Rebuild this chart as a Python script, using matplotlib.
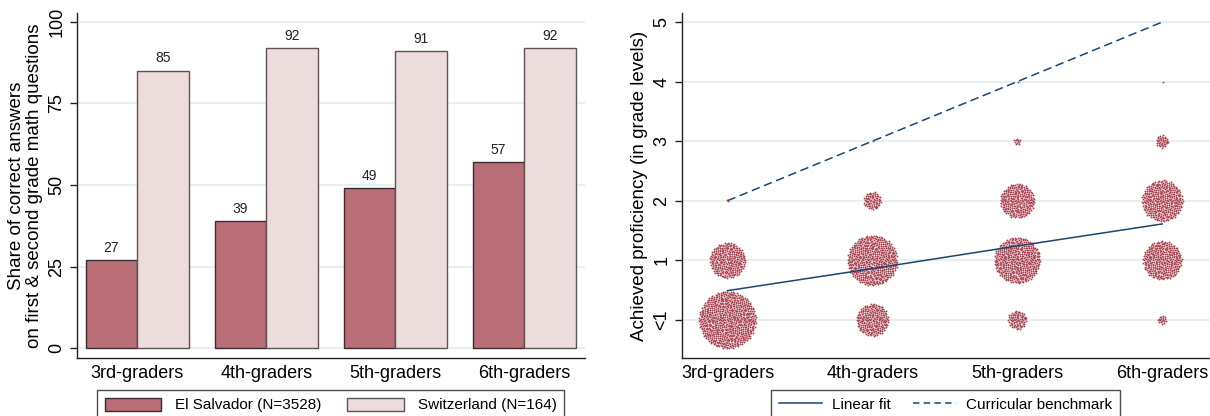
"""
two panel figure: share of correct answers by grade (bars) and achieved
proficiency of El Salvador pupils by grade (point clouds + fit lines).
"""
import numpy as np
import matplotlib
matplotlib.use("Agg")
import matplotlib.pyplot as plt
from matplotlib.patches import Patch
from matplotlib.lines import Line2D

plt.rcParams['font.family'] = ['Liberation Sans', 'DejaVu Sans']

# categories on both panels
grades = ["3rd-graders", "4th-graders", "5th-graders", "6th-graders"]

# left panel: share of correct answers (%)
el_salvador = [27, 39, 49, 57]
switzerland = [85, 92, 91, 92]
country_labels = ["El Salvador (N=3528)", "Switzerland (N=164)"]

# right panel: number of pupils per proficiency level, one list per grade
# levels: <1, 1, 2, 3, 4
prof_levels = [0, 1, 2, 3, 4]
prof_ticklabels = ["<1", "1", "2", "3", "4", "5"]
counts_g3 = [741, 290, 2, 0, 0]
counts_g4 = [237, 571, 70, 1, 0]
counts_g5 = [79, 479, 268, 11, 1]
counts_g6 = [18, 344, 380, 37, 1]
linear_fit = [0.49, 0.86, 1.24, 1.61]
benchmark = [2, 3, 4, 5]

MAROON = "#b96d76"
PINK = "#ecdcdc"
DOT = "#a8414f"
NAVY = "#1a476f"
GRID = "#e6eeef"

W, H = 1210, 416
fig = plt.figure(figsize=(W / 100, H / 100), dpi=100)


def style_axis(ax):
    """common look of both panels"""
    for s in ["top", "right"]:
        ax.spines[s].set_visible(False)
    for s in ["left", "bottom"]:
        ax.spines[s].set_color("#222222")
        ax.spines[s].set_linewidth(1.0)
    ax.tick_params(axis="y", length=5, width=1, color="#222222",
                   labelsize=13, pad=3)
    ax.tick_params(axis="x", length=0, labelsize=13, pad=5)
    for t in ax.get_yticklabels():
        t.set_rotation(90)
        t.set_va("center")
    ax.grid(axis="y", color=GRID, linewidth=1.3)
    ax.set_axisbelow(True)


# ---- left panel: bars
ax1 = fig.add_axes([76.7 / W, 1 - 358.3 / H, (585 - 76.7) / W, 345.6 / H])
x = np.arange(len(grades))
bw = 0.4
ax1.bar(x - bw / 2, el_salvador, width=bw, color=MAROON,
        edgecolor="#3a2c30", linewidth=1.0)
ax1.bar(x + bw / 2, switzerland, width=bw, color=PINK,
        edgecolor="#5e5254", linewidth=1.0)
for i in range(len(grades)):
    ax1.text(x[i] - bw / 2, el_salvador[i] + 1.6, str(el_salvador[i]),
             ha="center", va="bottom", fontsize=10, color="#222222")
    ax1.text(x[i] + bw / 2, switzerland[i] + 1.6, str(switzerland[i]),
             ha="center", va="bottom", fontsize=10, color="#222222")
ax1.set_xlim(-0.47, 3.47)
ax1.set_ylim(-3.06, 102.76)
ax1.set_yticks([0, 25, 50, 75, 100])
ax1.set_xticks(x)
ax1.set_xticklabels(grades)
ax1.set_ylabel("Share of correct answers\non first & second grade math questions",
               fontsize=13.5, labelpad=4, linespacing=1.1)
style_axis(ax1)

leg1 = fig.legend(handles=[Patch(facecolor=MAROON, edgecolor="#3a2c30"),
                           Patch(facecolor=PINK, edgecolor="#5e5254")],
                  labels=country_labels, loc="upper center",
                  bbox_to_anchor=(330.5 / W, 1 - 390 / H), ncol=2,
                  fontsize=11, frameon=True, fancybox=False,
                  handlelength=3.7, handleheight=0.95, handletextpad=0.9,
                  columnspacing=1.7, borderpad=0.5, borderaxespad=0)
leg1.get_frame().set_edgecolor("#222222")
leg1.get_frame().set_linewidth(1.0)

# ---- right panel: proficiency clouds
ax2 = fig.add_axes([681.7 / W, 1 - 358.3 / H, (W - 681.7) / W, 345.6 / H])
xmin, xmax = -0.316, 3.33
ymin, ymax = -0.646, 5.157
ax2.set_xlim(xmin, xmax)
ax2.set_ylim(ymin, ymax)

# pixels per data unit, so every cloud is round on screen
px_x = W * ax2.get_position().width / (xmax - xmin)
px_y = H * ax2.get_position().height / (ymax - ymin)

golden = np.pi * (3 - np.sqrt(5))
all_counts = [counts_g3, counts_g4, counts_g5, counts_g6]
for g, counts in enumerate(all_counts):
    for lvl, n in zip(prof_levels, counts):
        if n == 0:
            continue
        # sunflower layout: cloud area grows with the number of pupils
        radius = 1.05 * np.sqrt(n)
        i = np.arange(n)
        r = radius * np.sqrt((i + 0.5) / n)
        th = i * golden
        px = g + r * np.cos(th) / px_x
        py = lvl + r * np.sin(th) / px_y
        ax2.plot(px, py, linestyle="none", marker="o", markersize=1.35,
                 markeredgewidth=0, color=DOT, zorder=3)

ax2.plot(x, linear_fit, color=NAVY, linewidth=1.1, zorder=4)
ax2.plot(x, benchmark, color=NAVY, linewidth=1.1,
         linestyle=(0, (5.6, 3.0)), zorder=2)
ax2.set_yticks(range(len(prof_ticklabels)))
ax2.set_yticklabels(prof_ticklabels)
ax2.set_xticks(x)
ax2.set_xticklabels(grades)
ax2.set_ylabel("Achieved proficiency (in grade levels)", fontsize=13.5,
               labelpad=4)
style_axis(ax2)

leg2 = fig.legend(handles=[Line2D([], [], color=NAVY, linewidth=1.1),
                           Line2D([], [], color=NAVY, linewidth=1.1,
                                  linestyle=(0, (4.2, 2.8)))],
                  labels=["Linear fit", "Curricular benchmark"],
                  loc="upper center", bbox_to_anchor=(945.5 / W, 1 - 390 / H),
                  ncol=2, fontsize=11, frameon=True, fancybox=False,
                  handlelength=2.8, handletextpad=0.65, columnspacing=1.5,
                  borderpad=0.5, borderaxespad=0)
leg2.get_frame().set_edgecolor("#222222")
leg2.get_frame().set_linewidth(1.0)

fig.savefig("out.png", dpi=100)
